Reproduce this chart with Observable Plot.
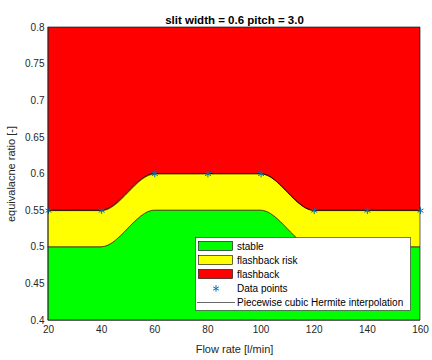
<!DOCTYPE html>
<html>
<head>
<meta charset="utf-8">
<script src="https://cdn.jsdelivr.net/npm/d3@7"></script>
<script src="https://cdn.jsdelivr.net/npm/@observablehq/plot@0.6"></script>
<style>
  html, body { margin: 0; padding: 0; background: #fff; }
  svg { font-family: "Liberation Sans", Arial, sans-serif; }
</style>
</head>
<body>
<div id="chart"></div>
<script>
const titleText = "slit width = 0.6 pitch = 3.0";
const flow = [20, 40, 60, 80, 100, 120, 140, 160];
const upper = [0.55, 0.55, 0.6, 0.6, 0.6, 0.55, 0.55, 0.55];
const lower = [0.5, 0.5, 0.55, 0.55, 0.55, 0.5, 0.5, 0.5];
const yBottom = 0.4;
const yTop = 0.8;
const xTicks = [20, 40, 60, 80, 100, 120, 140, 160];
const yTicks = [0.4, 0.45, 0.5, 0.55, 0.6, 0.65, 0.7, 0.75, 0.8];
const legendLabels = ["stable", "flashback risk", "flashback", "Data points", "Piecewise cubic Hermite interpolation"];
const legendColors = ["#00ff00", "#ffff00", "#ff0000"];

const rows = flow.map((f, i) => ({f, up: upper[i], lo: lower[i], b: yBottom, t: yTop}));

const chart = Plot.plot({
  width: 432,
  height: 360,
  marginLeft: 48,
  marginRight: 12,
  marginTop: 27,
  marginBottom: 40,
  style: {fontFamily: "Liberation Sans, Arial, sans-serif", fontSize: "10px", background: "#fff", color: "#262626"},
  x: {domain: [20, 160]},
  y: {domain: [0.4, 0.8]},
  marks: [
    Plot.areaY(rows, {x: "f", y1: "b", y2: "lo", curve: "monotone-x", fill: legendColors[0], stroke: "#000", strokeWidth: 0.6}),
    Plot.areaY(rows, {x: "f", y1: "lo", y2: "up", curve: "monotone-x", fill: legendColors[1], stroke: "#000", strokeWidth: 0.6}),
    Plot.areaY(rows, {x: "f", y1: "up", y2: "t", curve: "monotone-x", fill: legendColors[2], stroke: "#000", strokeWidth: 0.6}),
    Plot.lineY(rows, {x: "f", y: "up", curve: "monotone-x", stroke: "#000", strokeWidth: 0.6}),
    Plot.dot(rows, {x: "f", y: "up", symbol: "asterisk", r: 3.2, stroke: "#0072BD", strokeWidth: 1}),
    Plot.axisX({ticks: xTicks, tickSize: 0, tickPadding: 5, tickFormat: d => String(d), fontSize: 10, color: "#262626",
      label: "Flow rate [l/min]", labelAnchor: "center", labelArrow: "none", labelOffset: 32}),
    Plot.axisY({ticks: yTicks, tickSize: 0, tickPadding: 4, tickFormat: d => String(+d.toFixed(2)), fontSize: 10,
      label: "equivalacne ratio [-]", labelAnchor: "center", labelArrow: "none", labelOffset: 41}),
    Plot.ruleX([20], {stroke: "#262626", strokeWidth: 0.6}),
    Plot.ruleY([0.4], {stroke: "#262626", strokeWidth: 0.6}),
    Plot.text([titleText], {frameAnchor: "top", dy: -12, fontWeight: "bold", fontSize: 11.5, fill: "#000"})
  ]
});

document.getElementById("chart").appendChild(chart);

// Legend (inside the axes, lower right)
const svg = d3.select(chart);
svg.selectAll("[aria-label='x-axis label'] text, [aria-label='y-axis label'] text").style("font-size", "11px").attr("fill", "#262626");
const lg = svg.append("g").attr("font-size", 10).attr("fill", "#000").attr("text-anchor", "start");
const bx = 195.5, by = 237.5, bw = 215, bh = 73;
lg.append("rect").attr("x", bx).attr("y", by).attr("width", bw).attr("height", bh)
  .attr("fill", "#fff").attr("stroke", "#262626").attr("stroke-width", 0.6);
const ys = [246, 260, 274, 288.5, 302.5];
legendLabels.forEach((lab, i) => {
  const y = ys[i];
  if (i < 3) {
    lg.append("rect").attr("x", 198.5).attr("y", y - 4.5).attr("width", 34).attr("height", 9)
      .attr("fill", legendColors[i]).attr("stroke", "#000").attr("stroke-width", 0.6);
  } else if (i === 3) {
    lg.append("path").attr("transform", `translate(216,${y})`)
      .attr("d", d3.symbol(d3.symbolAsterisk, 30)())
      .attr("fill", "none").attr("stroke", "#0072BD").attr("stroke-width", 1);
  } else {
    lg.append("line").attr("x1", 197).attr("x2", 235).attr("y1", y).attr("y2", y)
      .attr("stroke", "#000").attr("stroke-width", 0.6);
  }
  lg.append("text").attr("x", 237).attr("y", y).attr("dy", "0.35em").attr("text-anchor", "start").text(lab);
});
</script>
</body>
</html>
